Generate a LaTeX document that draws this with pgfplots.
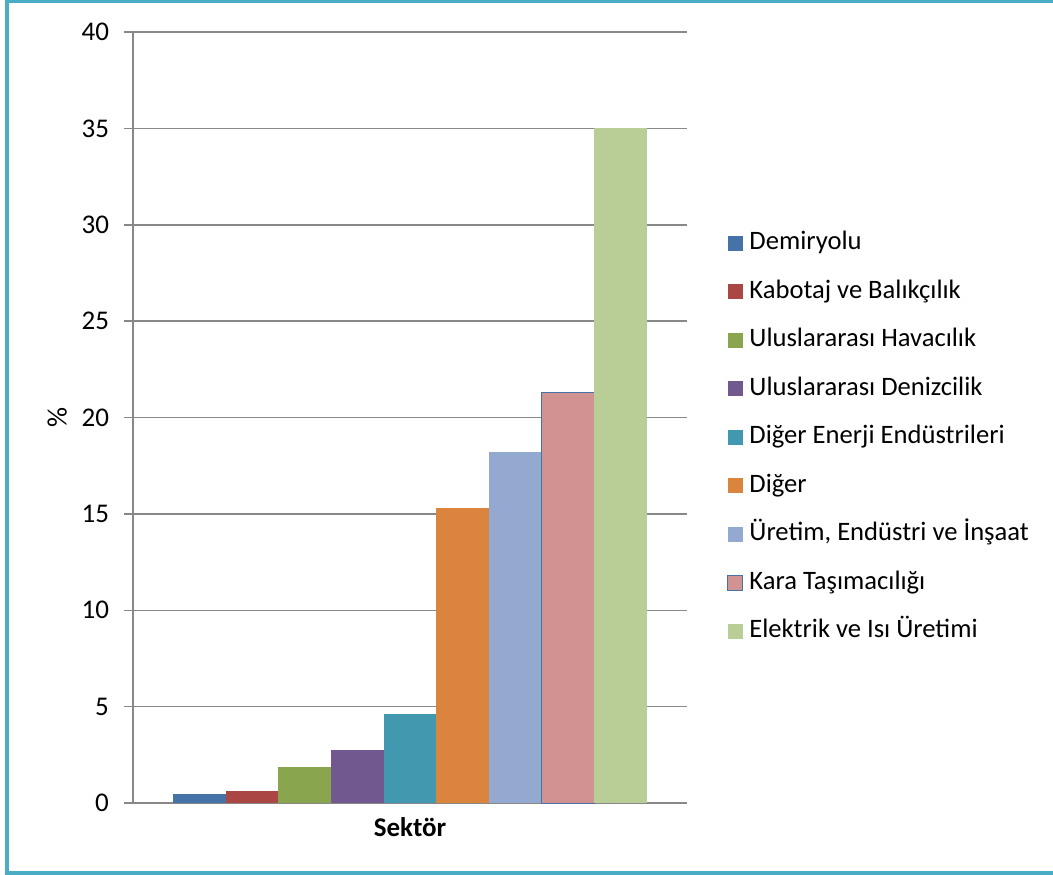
\documentclass[border=0pt]{standalone}
\usepackage{pgfplots}
\pgfplotsset{compat=1.18}
\usepackage{fontspec}
\setmainfont{Carlito}
\definecolor{cA}{HTML}{4572A7}
\definecolor{cB}{HTML}{AA4643}
\definecolor{cC}{HTML}{89A54E}
\definecolor{cD}{HTML}{71588F}
\definecolor{cE}{HTML}{4198AF}
\definecolor{cF}{HTML}{DB843D}
\definecolor{cG}{HTML}{93A9CF}
\definecolor{cH}{HTML}{D19392}
\definecolor{cI}{HTML}{B9CD96}
\definecolor{frame}{HTML}{4BACC6}
\definecolor{gridg}{HTML}{888888}
\begin{document}
\begin{tikzpicture}
\useasboundingbox (-66.5pt,-35.5pt) rectangle (460pt,401.5pt);
\begin{axis}[
  at={(0,0)}, anchor=south west,
  scale only axis, width=277pt, height=385.5pt,
  ybar=0pt, bar width=26.33pt,
  xmin=-1, xmax=1, ymin=0, ymax=40,
  xtick={0}, xticklabels={\textbf{Sektör}},
  ytick={0,5,...,40},
  axis x line=bottom, axis y line=left,
  axis line style={gridg, line width=0.75pt, -},
  x axis line style={-}, y axis line style={-},
  major x tick style={draw=none},
  major y tick style={gridg, line width=0.75pt},
  tick align=outside, major tick length=4.5pt,
  ymajorgrids, grid style={gridg, line width=0.75pt},
  tick label style={font=\fontsize{13.5}{16}\selectfont},
  yticklabel style={xshift=-4pt},
  xticklabel style={yshift=1pt},
  /pgf/number format/assume math mode=true,
  ylabel={\%},
  ylabel style={at={(axis description cs:-0.137,0.5)}, anchor=center, font=\fontsize{14}{16}\selectfont},
  legend style={draw=none, fill=none, at={(axis description cs:1.0614,0.4747)}, anchor=west,
    font=\fontsize{13.3}{16}\selectfont, row sep=11pt, column sep=3pt,
    nodes={inner sep=0pt, text height=10pt, text depth=3.25pt}},
  legend cell align=left,
  legend image code/.code={\fill[#1] (0pt,-3.75pt) rectangle (7.5pt,3.75pt);},
  every axis plot/.append style={draw=none},
]
\addplot[fill=cA] coordinates {(0,0.47)};
\addlegendentry{Demiryolu}
\addplot[fill=cB] coordinates {(0,0.62)};
\addlegendentry{Kabotaj ve Balıkçılık}
\addplot[fill=cC] coordinates {(0,1.87)};
\addlegendentry{Uluslararası Havacılık}
\addplot[fill=cD] coordinates {(0,2.75)};
\addlegendentry{Uluslararası Denizcilik}
\addplot[fill=cE] coordinates {(0,4.62)};
\addlegendentry{Diğer Enerji Endüstrileri}
\addplot[fill=cF] coordinates {(0,15.3)};
\addlegendentry{Diğer}
\addplot[fill=cG] coordinates {(0,18.2)};
\addlegendentry{Üretim, Endüstri ve İnşaat}
\addplot[fill=cH, draw=cA, line width=0.5pt] coordinates {(0,21.3)};
\addlegendentry{Kara Taşımacılığı}
\addplot[fill=cI] coordinates {(0,35.0)};
\addlegendentry{Elektrik ve Isı Üretimi}
\end{axis}
\draw[frame, line width=2pt] (-63pt,-34.75pt) rectangle (462pt,400.75pt);
\end{tikzpicture}
\end{document}
